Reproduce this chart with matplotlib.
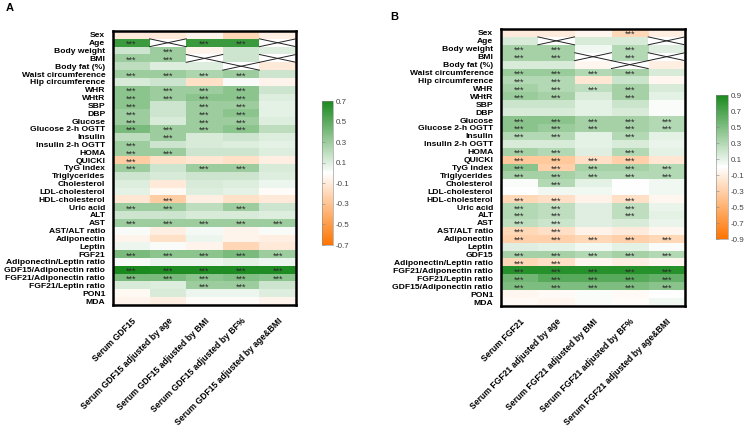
import numpy as np
import matplotlib
matplotlib.use("Agg")
import matplotlib.pyplot as plt
from matplotlib.colors import LinearSegmentedColormap

plt.rcParams['font.family'] = ['Liberation Sans', 'DejaVu Sans']
plt.rcParams['axes.unicode_minus'] = False

rows_A = ["Sex", "Age", "Body weight", "BMI", "Body fat (%)", "Waist circumference",
          "Hip circumference", "WHR", "WHtR", "SBP", "DBP", "Glucose", "Glucose 2-h OGTT",
          "Insulin", "Insulin 2-h OGTT", "HOMA", "QUICKI", "TyG index", "Triglycerides",
          "Cholesterol", "LDL-cholesterol", "HDL-cholesterol", "Uric acid", "ALT", "AST",
          "AST/ALT ratio", "Adiponectin", "Leptin", "FGF21", "Adiponectin/Leptin ratio",
          "GDF15/Adiponectin ratio", "FGF21/Adiponectin ratio", "FGF21/Leptin ratio",
          "PON1", "MDA"]
cols_A = ["Serum GDF15", "Serum GDF15 adjusted by age", "Serum GDF15 adjusted by BMI",
          "Serum GDF15 adjusted by BF%", "Serum GDF15 adjusted by age&BMI"]
values_A = [
    [-0.10, -0.10, -0.05, -0.20, -0.08],
    [0.60, 0.00, 0.60, 0.60, 0.00],
    [0.15, 0.30, -0.05, 0.15, 0.10],
    [0.30, 0.30, 0.00, 0.15, 0.00],
    [0.20, 0.10, 0.10, 0.00, -0.10],
    [0.30, 0.30, 0.25, 0.30, 0.15],
    [0.12, 0.15, -0.15, 0.02, -0.05],
    [0.35, 0.30, 0.30, 0.35, 0.15],
    [0.35, 0.30, 0.35, 0.35, 0.10],
    [0.35, 0.15, 0.30, 0.30, 0.08],
    [0.30, 0.15, 0.30, 0.35, 0.08],
    [0.30, 0.12, 0.30, 0.30, 0.10],
    [0.40, 0.30, 0.30, 0.35, 0.20],
    [0.20, 0.30, 0.12, 0.15, 0.10],
    [0.30, 0.15, 0.12, 0.10, 0.08],
    [0.30, 0.30, 0.15, 0.15, 0.10],
    [-0.25, -0.15, -0.12, -0.15, -0.08],
    [0.30, 0.15, 0.30, 0.30, 0.12],
    [0.15, 0.12, 0.15, 0.15, 0.10],
    [0.10, -0.10, 0.12, 0.10, 0.05],
    [0.08, -0.03, 0.10, 0.08, -0.02],
    [-0.12, -0.25, -0.08, -0.15, -0.10],
    [0.30, 0.30, 0.20, 0.30, 0.15],
    [0.15, 0.15, 0.12, 0.12, 0.10],
    [0.30, 0.30, 0.30, 0.30, 0.30],
    [0.02, -0.08, 0.03, -0.05, 0.02],
    [-0.05, -0.15, 0.05, -0.05, -0.08],
    [0.05, 0.02, -0.05, -0.20, -0.10],
    [0.40, 0.35, 0.35, 0.40, 0.30],
    [0.02, 0.05, 0.05, 0.08, 0.05],
    [0.70, 0.68, 0.68, 0.68, 0.68],
    [0.40, 0.40, 0.35, 0.38, 0.35],
    [0.12, 0.10, 0.30, 0.30, 0.15],
    [-0.03, 0.12, 0.05, 0.05, 0.10],
    [-0.05, -0.08, -0.02, -0.02, -0.05],
]
sig_A = [
    [0, 0, 0, 0, 0], [1, 0, 1, 1, 0], [0, 1, 0, 0, 0], [1, 1, 0, 0, 0], [0, 0, 0, 0, 0],
    [1, 1, 1, 1, 0], [0, 0, 0, 0, 0], [1, 1, 1, 1, 0], [1, 1, 1, 1, 0], [1, 0, 1, 1, 0],
    [1, 0, 1, 1, 0], [1, 0, 1, 1, 0], [1, 1, 1, 1, 0], [0, 1, 0, 0, 0], [1, 0, 0, 0, 0],
    [1, 1, 0, 0, 0], [1, 0, 0, 0, 0], [1, 0, 1, 1, 0], [0, 0, 0, 0, 0], [0, 0, 0, 0, 0],
    [0, 0, 0, 0, 0], [0, 1, 0, 0, 0], [1, 1, 0, 1, 0], [0, 0, 0, 0, 0], [1, 1, 1, 1, 1],
    [0, 0, 0, 0, 0], [0, 0, 0, 0, 0], [0, 0, 0, 0, 0], [1, 1, 1, 1, 1], [0, 0, 0, 0, 0],
    [1, 1, 1, 1, 1], [1, 1, 1, 1, 1], [0, 0, 1, 1, 0], [0, 0, 0, 0, 0], [0, 0, 0, 0, 0],
]

rows_B = ["Sex", "Age", "Body weight", "BMI", "Body fat (%)", "Waist circumference",
          "Hip circumference", "WHR", "WHtR", "SBP", "DBP", "Glucose", "Glucose 2-h OGTT",
          "Insulin", "Insulin 2-h OGTT", "HOMA", "QUICKI", "TyG index", "Triglycerides",
          "Cholesterol", "LDL-cholesterol", "HDL-cholesterol", "Uric acid", "ALT", "AST",
          "AST/ALT ratio", "Adiponectin", "Leptin", "GDF15", "Adiponectin/Leptin ratio",
          "FGF21/Adiponectin ratio", "FGF21/Leptin ratio", "GDF15/Adiponectin ratio",
          "PON1", "MDA"]
cols_B = ["Serum FGF21", "Serum FGF21 adjusted by age", "Serum FGF21 adjusted by BMI",
          "Serum FGF21 adjusted by BF%", "Serum FGF21 adjusted by age&BMI"]
values_B = [
    [-0.12, -0.12, -0.05, -0.25, -0.10],
    [0.15, 0.00, 0.15, 0.15, 0.00],
    [0.35, 0.35, 0.05, 0.30, 0.12],
    [0.35, 0.35, 0.00, 0.30, 0.00],
    [0.15, 0.15, -0.05, 0.00, -0.10],
    [0.40, 0.40, 0.30, 0.35, 0.15],
    [0.30, 0.30, -0.15, 0.20, -0.05],
    [0.35, 0.30, 0.25, 0.35, 0.15],
    [0.40, 0.35, 0.15, 0.35, 0.10],
    [0.20, 0.20, 0.10, 0.20, 0.02],
    [0.15, 0.15, 0.10, 0.15, 0.02],
    [0.45, 0.45, 0.35, 0.35, 0.30],
    [0.45, 0.40, 0.35, 0.35, 0.30],
    [0.30, 0.30, 0.10, 0.30, 0.10],
    [0.15, 0.15, 0.10, 0.15, 0.08],
    [0.35, 0.30, 0.12, 0.30, 0.10],
    [-0.35, -0.35, -0.20, -0.30, -0.15],
    [0.45, -0.30, 0.35, 0.35, 0.30],
    [0.35, 0.35, 0.30, 0.30, 0.30],
    [0.02, 0.30, 0.10, 0.00, 0.05],
    [0.00, 0.05, 0.05, 0.00, 0.05],
    [-0.25, -0.20, -0.08, -0.20, -0.05],
    [0.30, 0.25, 0.12, 0.25, 0.08],
    [0.30, 0.25, 0.12, 0.25, 0.10],
    [0.25, 0.20, 0.12, 0.15, 0.08],
    [-0.25, -0.20, -0.08, -0.12, -0.05],
    [-0.30, -0.30, -0.25, -0.30, -0.25],
    [0.12, 0.10, 0.05, 0.10, 0.02],
    [0.35, 0.35, 0.30, 0.35, 0.30],
    [-0.25, -0.20, -0.05, -0.10, -0.05],
    [0.85, 0.85, 0.85, 0.85, 0.85],
    [0.55, 0.65, 0.65, 0.65, 0.60],
    [0.50, 0.50, 0.50, 0.50, 0.45],
    [-0.05, -0.03, 0.02, -0.03, 0.00],
    [-0.03, -0.05, 0.02, -0.02, 0.05],
]
sig_B = [
    [0, 0, 0, 1, 0], [0, 0, 0, 0, 0], [1, 1, 0, 1, 0], [1, 1, 0, 1, 0], [0, 0, 0, 0, 0],
    [1, 1, 1, 1, 0], [1, 1, 0, 0, 0], [1, 1, 1, 1, 0], [1, 1, 0, 1, 0], [0, 0, 0, 0, 0],
    [0, 0, 0, 0, 0], [1, 1, 1, 1, 1], [1, 1, 1, 1, 1], [1, 1, 0, 1, 0], [0, 0, 0, 0, 0],
    [1, 1, 0, 1, 0], [1, 1, 1, 1, 0], [1, 1, 1, 1, 1], [1, 1, 1, 1, 1], [0, 1, 0, 0, 0],
    [0, 0, 0, 0, 0], [1, 1, 0, 1, 0], [1, 1, 0, 1, 0], [1, 1, 0, 1, 0], [1, 1, 0, 0, 0],
    [1, 1, 0, 0, 0], [1, 1, 1, 1, 1], [0, 0, 0, 0, 0], [1, 1, 1, 1, 1], [1, 1, 0, 0, 0],
    [1, 1, 1, 1, 1], [1, 1, 1, 1, 1], [1, 1, 1, 1, 1], [0, 0, 0, 0, 0], [0, 0, 0, 0, 0],
]
# crossed-out (not applicable) cells: (row, col)
crossed = [(1, 1), (1, 4), (3, 2), (3, 4), (4, 3)]

ticks_A = [0.7, 0.5, 0.3, 0.1, -0.1, -0.3, -0.5, -0.7]
ticks_B = [0.9, 0.7, 0.5, 0.3, 0.1, -0.1, -0.3, -0.5, -0.7, -0.9]

cmap = LinearSegmentedColormap.from_list("og", ["#FF7400", "#FFFFFF", "#1A8A1E"])

W, H = 747, 428
fig = plt.figure(figsize=(W / 100, H / 100), dpi=100)


def panel(rect, cbrect, rows, cols, vals, sig, lim, ticks, letter, letter_xy):
    ax = fig.add_axes(rect)
    data = np.array(vals, dtype=float)
    im = ax.imshow(data, cmap=cmap, vmin=-lim, vmax=lim, aspect='auto',
                   interpolation='nearest')
    nr, nc = data.shape
    for (r, c) in crossed:
        ax.add_patch(plt.Rectangle((c - 0.5, r - 0.5), 1, 1, facecolor='white',
                                   edgecolor='none', zorder=2))
        ax.plot([c - 0.5, c + 0.5], [r - 0.5, r + 0.5], color='#222222', lw=0.7, zorder=3)
        ax.plot([c - 0.5, c + 0.5], [r + 0.5, r - 0.5], color='#222222', lw=0.7, zorder=3)
    for r in range(nr):
        for c in range(nc):
            if sig[r][c]:
                ax.text(c, r + 0.22, "***", ha='center', va='center', fontsize=6.5,
                        color='#2a2a2a', zorder=4)
    ax.set_xlim(-0.5, nc - 0.5)
    ax.set_ylim(nr - 0.5, -0.5)
    ax.set_yticks(range(nr))
    ax.set_yticklabels(rows, fontsize=6.1, fontweight='bold')
    ax.set_xticks(range(nc))
    ax.set_xticklabels(cols, rotation=45, ha='right', va='top', rotation_mode='anchor',
                       fontsize=6.2, fontweight='bold')
    ax.tick_params(length=0, pad=5.5)
    ax.tick_params(axis='x', pad=8)
    for s in ax.spines.values():
        s.set_linewidth(1.8)
    cax = fig.add_axes(cbrect)
    cb = fig.colorbar(im, cax=cax, ticks=ticks)
    cb.outline.set_linewidth(0.4)
    cb.outline.set_edgecolor('#888888')
    cax.tick_params(labelsize=5.8, labelcolor='#444444', length=2, width=0.4,
                    color='#888888', direction='in', left=True, right=False, pad=2)
    fig.text(letter_xy[0] / W, 1 - letter_xy[1] / H, letter, fontsize=8,
             fontweight='bold', ha='left', va='center')


panel([113 / W, 1 - 305 / H, 183 / W, 274 / H], [322 / W, 1 - 245 / H, 11 / W, 144 / H],
      rows_A, cols_A, values_A, sig_A, 0.7, ticks_A, "A", (6, 8))
panel([501 / W, 1 - 306 / H, 184 / W, 277 / H], [716 / W, 1 - 239 / H, 12 / W, 144 / H],
      rows_B, cols_B, values_B, sig_B, 0.9, ticks_B, "B", (390, 17))

fig.savefig("out.png", dpi=100)
